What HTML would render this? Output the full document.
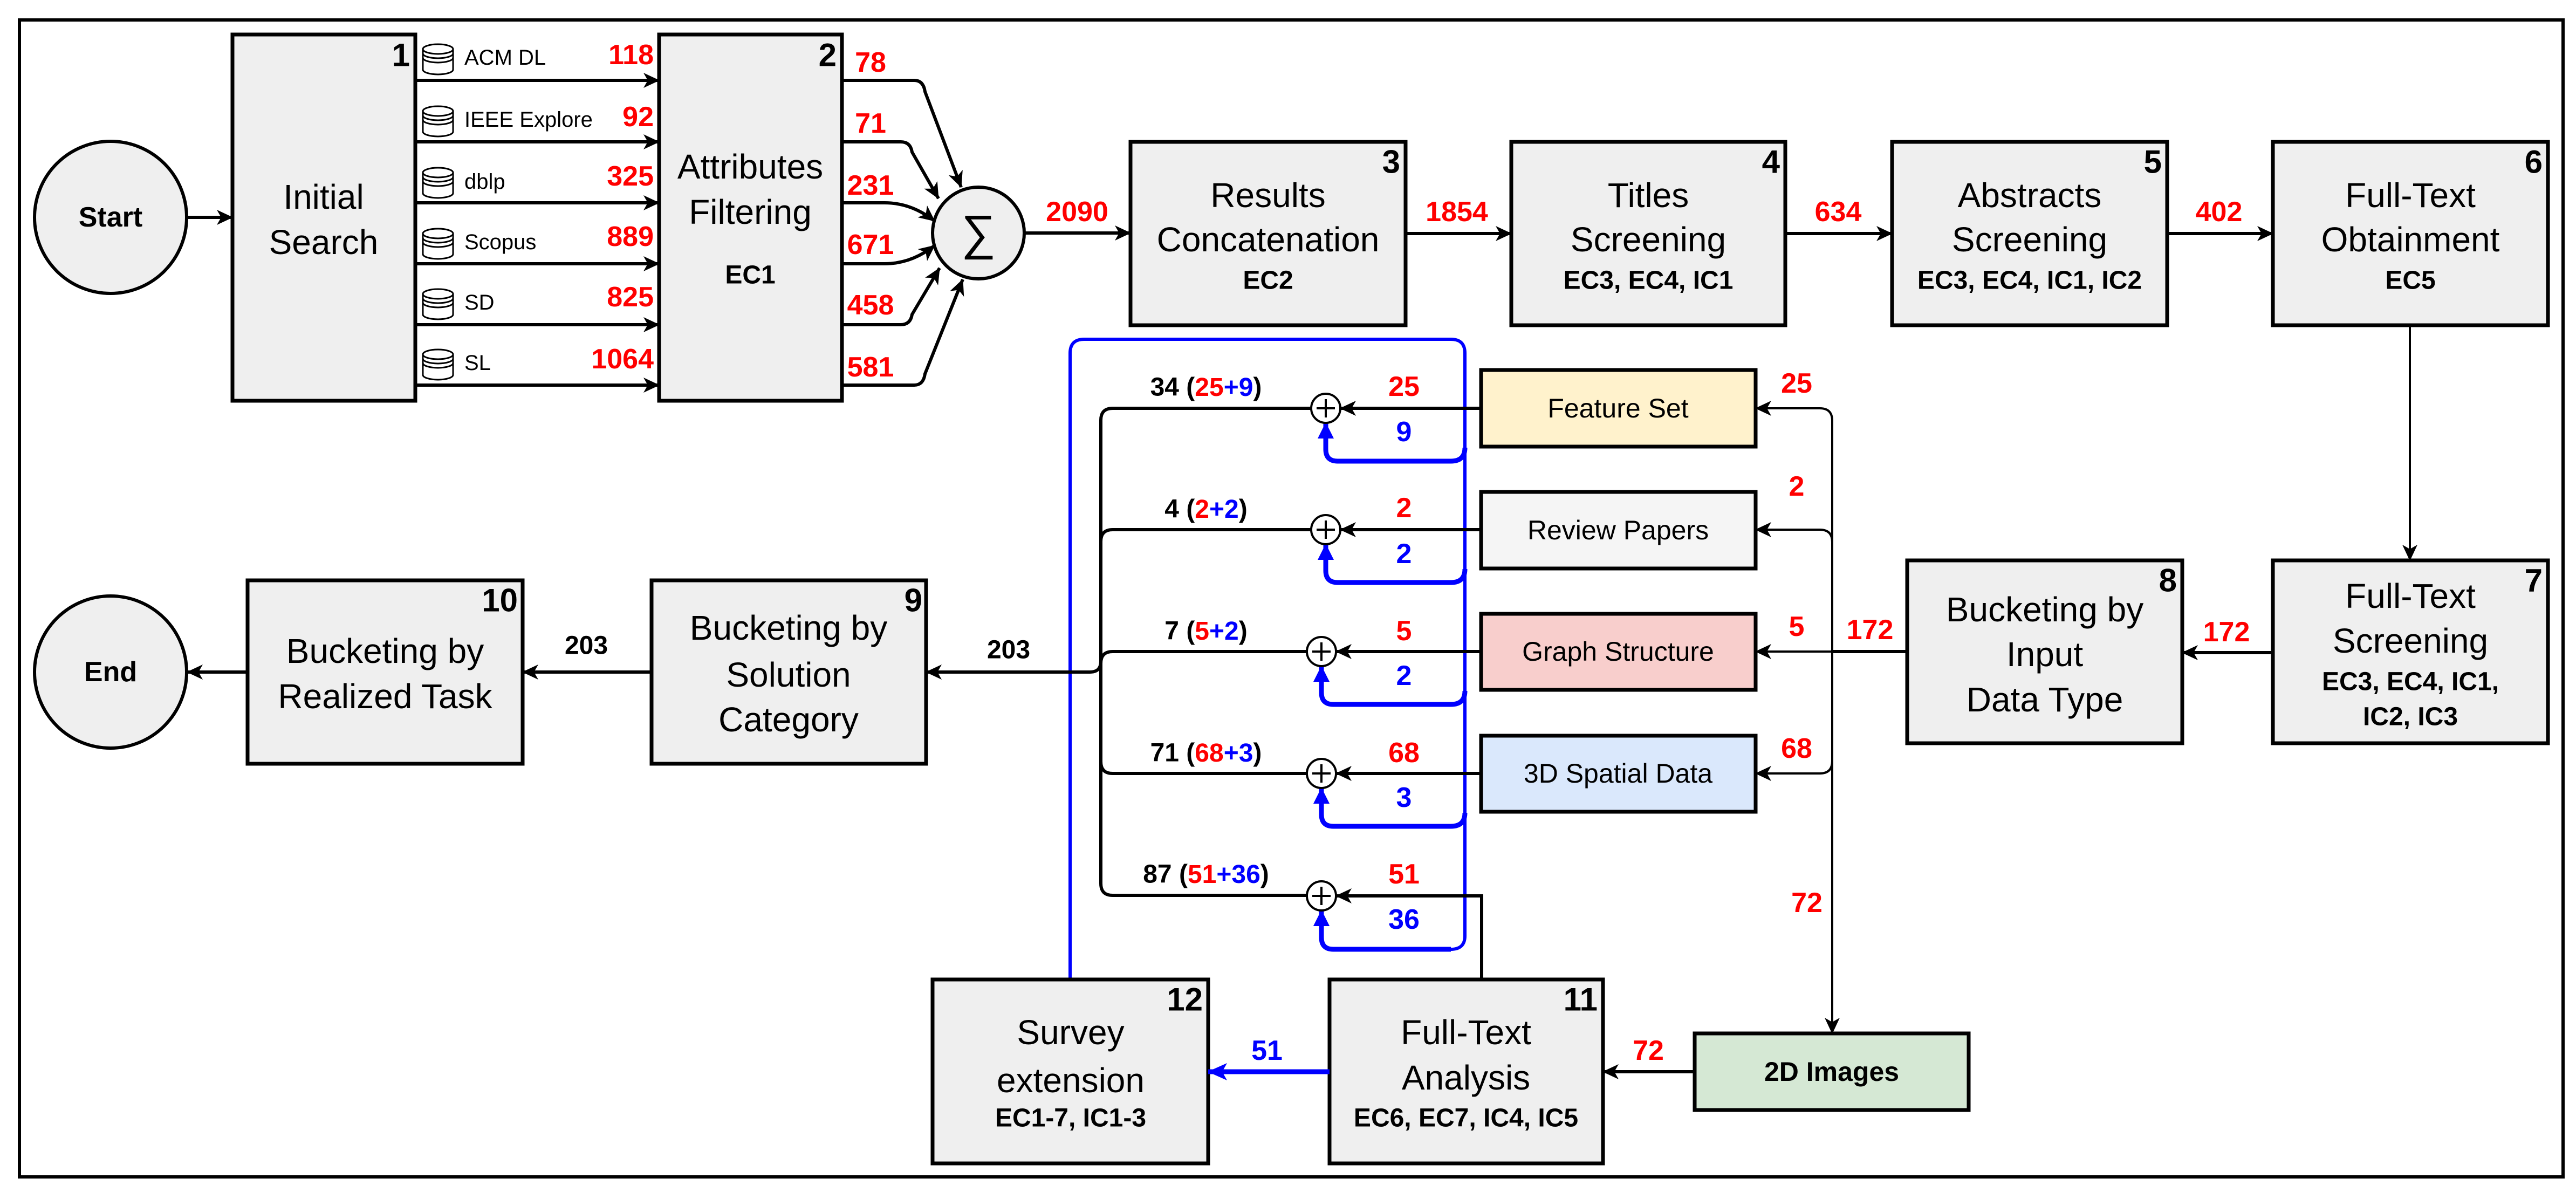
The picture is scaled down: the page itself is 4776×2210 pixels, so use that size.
<!DOCTYPE html>
<html><head><meta charset="utf-8">
<style>
html,body{margin:0;padding:0;background:#fff;}
svg{display:block;}
text{font-family:"Liberation Sans",Arial,sans-serif;dominant-baseline:central;}
.t{font-size:64px;text-anchor:middle;}
.b{font-size:48px;font-weight:bold;text-anchor:middle;}
.n{font-size:60px;font-weight:bold;text-anchor:end;}
.r{font-size:52px;font-weight:bold;fill:#ff0000;text-anchor:middle;}
.bl{font-size:52px;font-weight:bold;fill:#0000ff;text-anchor:middle;}
.k{font-size:48px;font-weight:bold;text-anchor:middle;}
.s{font-size:50px;text-anchor:middle;}
.db{font-size:40px;}
.box{fill:#efefef;stroke:#000;stroke-width:7;}
.ln{fill:none;stroke:#000;stroke-width:6;}
.thin{fill:none;stroke:#000;stroke-width:4;}
.blu{fill:none;stroke:#0000ff;stroke-width:6;}
.blu2{fill:none;stroke:#0000ff;stroke-width:9;}
</style></head><body>
<svg width="4776" height="2210" viewBox="0 0 4776 2210" xmlns="http://www.w3.org/2000/svg">
<defs>
<marker id="a" viewBox="0 0 30 28" refX="29" refY="14" markerWidth="30" markerHeight="28" orient="auto" markerUnits="userSpaceOnUse"><path d="M0,0 L30,14 L0,28 L8,14z" fill="#000"/></marker>
<marker id="ab" viewBox="0 0 36 32" refX="35" refY="16" markerWidth="36" markerHeight="32" orient="auto" markerUnits="userSpaceOnUse"><path d="M0,0 L36,16 L0,32 L9,16z" fill="#0000ff"/></marker>
<marker id="bk" viewBox="0 0 30 30" refX="29" refY="15" markerWidth="30" markerHeight="30" orient="auto" markerUnits="userSpaceOnUse"><path d="M0,0 L30,15 L0,30z" fill="#0000ff"/></marker>
<g id="cyl">
<path d="M0,12 V50 A28,9 0 0 0 56,50 V12" fill="#fff" stroke="#000" stroke-width="3"/>
<ellipse cx="28" cy="12" rx="28" ry="9" fill="#fff" stroke="#000" stroke-width="3"/>
<path d="M0,20 A28,9 0 0 0 56,20 M0,28 A28,9 0 0 0 56,28" fill="none" stroke="#000" stroke-width="3"/>
</g>
</defs>
<rect width="4776" height="2210" fill="#fff"/>
<rect x="36" y="37" width="4716" height="2145" fill="none" stroke="#000" stroke-width="6"/>

<!-- Start / End -->
<circle cx="205" cy="403" r="141" fill="#efefef" stroke="#000" stroke-width="6"/>
<text x="205" y="403" class="k" style="font-size:52px">Start</text>
<circle cx="205" cy="1246" r="141" fill="#efefef" stroke="#000" stroke-width="6"/>
<text x="205" y="1246" class="k" style="font-size:52px">End</text>

<!-- Box1 -->
<rect x="431" y="64" width="339" height="679" class="box"/>
<text x="760" y="102" class="n">1</text>
<text x="600" y="365" class="t">Initial</text>
<text x="600" y="449" class="t">Search</text>
<!-- Box2 -->
<rect x="1222" y="64" width="339" height="679" class="box"/>
<text x="1551" y="102" class="n">2</text>
<text x="1391" y="309" class="t">Attributes</text>
<text x="1391" y="393" class="t">Filtering</text>
<text x="1391" y="510" class="b">EC1</text>

<!-- DB rows -->
<use href="#cyl" x="784" y="79"/><use href="#cyl" x="784" y="194"/><use href="#cyl" x="784" y="308"/>
<use href="#cyl" x="784" y="421"/><use href="#cyl" x="784" y="533"/><use href="#cyl" x="784" y="645"/>
<text x="861" y="107" class="db">ACM DL</text>
<text x="861" y="222" class="db">IEEE Explore</text>
<text x="861" y="337" class="db">dblp</text>
<text x="861" y="449" class="db">Scopus</text>
<text x="861" y="561" class="db">SD</text>
<text x="861" y="673" class="db">SL</text>
<g class="r" style="text-anchor:end">
<text x="1212" y="102" class="r" style="text-anchor:end">118</text>
<text x="1212" y="217" class="r" style="text-anchor:end">92</text>
<text x="1212" y="327" class="r" style="text-anchor:end">325</text>
<text x="1212" y="439" class="r" style="text-anchor:end">889</text>
<text x="1212" y="551" class="r" style="text-anchor:end">825</text>
<text x="1212" y="666" class="r" style="text-anchor:end">1064</text>
</g>
<path class="ln" d="M347,403 H431" marker-end="url(#a)"/>
<path class="ln" d="M770,149 H1222" marker-end="url(#a)"/>
<path class="ln" d="M770,263 H1222" marker-end="url(#a)"/>
<path class="ln" d="M770,376 H1222" marker-end="url(#a)"/>
<path class="ln" d="M770,489 H1222" marker-end="url(#a)"/>
<path class="ln" d="M770,602 H1222" marker-end="url(#a)"/>
<path class="ln" d="M770,714 H1222" marker-end="url(#a)"/>

<!-- Sum -->
<circle cx="1814" cy="432" r="85" fill="#efefef" stroke="#000" stroke-width="6"/>
<text x="1814" y="432" style="font-size:90px;text-anchor:middle">∑</text>
<path class="ln" d="M1561,149 H1695 Q1712,149 1715,170 L1782,347" marker-end="url(#a)"/>
<path class="ln" d="M1561,263 H1670 Q1688,263 1691,282 L1740,368" marker-end="url(#a)"/>
<path class="ln" d="M1561,376 H1640 Q1690,376 1733,410" marker-end="url(#a)"/>
<path class="ln" d="M1561,489 H1640 Q1690,489 1733,455" marker-end="url(#a)"/>
<path class="ln" d="M1561,602 H1670 Q1688,602 1691,583 L1742,497" marker-end="url(#a)"/>
<path class="ln" d="M1561,714 H1695 Q1712,714 1715,693 L1785,518" marker-end="url(#a)"/>
<text x="1614" y="116" class="r">78</text>
<text x="1614" y="229" class="r">71</text>
<text x="1614" y="344" class="r">231</text>
<text x="1614" y="454" class="r">671</text>
<text x="1614" y="566" class="r">458</text>
<text x="1614" y="681" class="r">581</text>
<path class="ln" d="M1899,432 H2096" marker-end="url(#a)"/>
<text x="1997" y="393" class="r">2090</text>

<!-- Top boxes -->
<rect x="2096" y="263" width="510" height="340" class="box"/>
<text x="2596" y="300" class="n">3</text>
<text x="2351" y="362" class="t">Results</text>
<text x="2351" y="444" class="t">Concatenation</text>
<text x="2351" y="520" class="b">EC2</text>
<rect x="2802" y="263" width="508" height="340" class="box"/>
<text x="3300" y="300" class="n">4</text>
<text x="3056" y="362" class="t">Titles</text>
<text x="3056" y="444" class="t">Screening</text>
<text x="3056" y="520" class="b">EC3, EC4, IC1</text>
<rect x="3508" y="263" width="510" height="340" class="box"/>
<text x="4008" y="300" class="n">5</text>
<text x="3763" y="362" class="t">Abstracts</text>
<text x="3763" y="444" class="t">Screening</text>
<text x="3763" y="520" class="b">EC3, EC4, IC1, IC2</text>
<rect x="4214" y="263" width="510" height="340" class="box"/>
<text x="4714" y="300" class="n">6</text>
<text x="4469" y="362" class="t">Full-Text</text>
<text x="4469" y="444" class="t">Obtainment</text>
<text x="4469" y="520" class="b">EC5</text>
<path class="ln" d="M2606,433 H2802" marker-end="url(#a)"/>
<path class="ln" d="M3310,433 H3508" marker-end="url(#a)"/>
<path class="ln" d="M4018,433 H4214" marker-end="url(#a)"/>
<text x="2701" y="393" class="r">1854</text>
<text x="3408" y="393" class="r">634</text>
<text x="4114" y="393" class="r">402</text>

<!-- Box7, Box8 -->
<path class="thin" d="M4468,603 V1039" marker-end="url(#a)"/>
<rect x="4214" y="1039" width="510" height="339" class="box"/>
<text x="4714" y="1076" class="n">7</text>
<text x="4469" y="1105" class="t">Full-Text</text>
<text x="4469" y="1188" class="t">Screening</text>
<text x="4469" y="1264" class="b">EC3, EC4, IC1,</text>
<text x="4469" y="1329" class="b">IC2, IC3</text>
<rect x="3536" y="1039" width="510" height="339" class="box"/>
<text x="4036" y="1076" class="n">8</text>
<text x="3791" y="1130" class="t">Bucketing by</text>
<text x="3791" y="1213" class="t">Input</text>
<text x="3791" y="1297" class="t">Data Type</text>
<path class="ln" d="M4214,1210 H4046" marker-end="url(#a)"/>
<text x="4128" y="1172" class="r">172</text>

<!-- right bus -->
<path class="ln" d="M3536,1208 H3397"/>
<path class="thin" d="M3397,780 V1916" marker-end="url(#a)"/>
<path class="thin" d="M3397,780 Q3397,757 3374,757 H3255" marker-end="url(#a)"/>
<path class="thin" d="M3397,1005 Q3397,982 3374,982 H3255" marker-end="url(#a)"/>
<path class="thin" d="M3397,1208 H3255" marker-end="url(#a)"/>
<path class="thin" d="M3397,1411 Q3397,1434 3374,1434 H3255" marker-end="url(#a)"/>
<text x="3467" y="1168" class="r">172</text>
<text x="3331" y="711" class="r">25</text>
<text x="3331" y="902" class="r">2</text>
<text x="3331" y="1162" class="r">5</text>
<text x="3331" y="1388" class="r">68</text>
<text x="3350" y="1674" class="r">72</text>

<!-- side boxes -->
<rect x="2746" y="686" width="509" height="142" fill="#fff2cc" stroke="#000" stroke-width="7"/>
<text x="3000" y="757" class="s">Feature Set</text>
<rect x="2746" y="912" width="509" height="142" fill="#f5f5f5" stroke="#000" stroke-width="7"/>
<text x="3000" y="983" class="s">Review Papers</text>
<rect x="2746" y="1138" width="509" height="141" fill="#f8cecc" stroke="#000" stroke-width="7"/>
<text x="3000" y="1208" class="s">Graph Structure</text>
<rect x="2746" y="1364" width="509" height="141" fill="#dae8fc" stroke="#000" stroke-width="7"/>
<text x="3000" y="1434" class="s">3D Spatial Data</text>

<!-- blue frame and loops -->
<path class="blu" d="M1984,1816 V655 Q1984,629 2010,629 H2690 Q2716,629 2716,655 V1735 Q2716,1760 2690,1760 H2472 Q2450,1760 2450,1738 V1688" marker-end="url(#bk)"/>
<path class="blu2" d="M2716,830 Q2716,855 2690,855 H2480 Q2458,855 2458,833 V784" marker-end="url(#bk)"/>
<path class="blu2" d="M2716,1055 Q2716,1080 2690,1080 H2480 Q2458,1080 2458,1058 V1009" marker-end="url(#bk)"/>
<path class="blu2" d="M2716,1281 Q2716,1306 2690,1306 H2472 Q2450,1306 2450,1284 V1235" marker-end="url(#bk)"/>
<path class="blu2" d="M2716,1507 Q2716,1532 2690,1532 H2472 Q2450,1532 2450,1510 V1461" marker-end="url(#bk)"/>
<path class="blu2" d="M2690,1760 H2472 Q2450,1760 2450,1738 V1688" marker-end="url(#bk)"/>

<!-- plus nodes -->
<path class="ln" d="M2746,757 H2485" marker-end="url(#a)"/>
<path class="ln" d="M2746,982 H2485" marker-end="url(#a)"/>
<path class="ln" d="M2746,1208 H2477" marker-end="url(#a)"/>
<path class="ln" d="M2746,1434 H2477" marker-end="url(#a)"/>
<path class="ln" d="M2747,1816 V1661 H2477" marker-end="url(#a)"/>
<g fill="#fff" stroke="#000" stroke-width="4">
<circle cx="2458" cy="757" r="27"/><circle cx="2458" cy="982" r="27"/>
<circle cx="2450" cy="1208" r="27"/><circle cx="2450" cy="1434" r="27"/><circle cx="2450" cy="1661" r="27"/>
</g>
<g stroke="#000" stroke-width="4">
<path d="M2441,757 H2475 M2458,740 V774"/><path d="M2441,982 H2475 M2458,965 V999"/>
<path d="M2433,1208 H2467 M2450,1191 V1225"/><path d="M2433,1434 H2467 M2450,1417 V1451"/>
<path d="M2433,1661 H2467 M2450,1644 V1678"/>
</g>

<!-- left bus -->
<path class="ln" d="M2431,757 H2063 Q2041,757 2041,779 V1638 Q2041,1660 2063,1660 H2423"/>
<path class="ln" d="M2431,982 H2063 Q2041,982 2041,1004"/>
<path class="ln" d="M2423,1208 H2063 Q2041,1208 2041,1230"/>
<path class="ln" d="M2423,1434 H2063 Q2041,1434 2041,1412"/>
<path class="ln" d="M2041,1226 Q2041,1246 2021,1246 H1717" marker-end="url(#a)"/>

<!-- plus labels -->
<text x="2236" y="718" class="k">34 (<tspan fill="#ff0000">25</tspan><tspan fill="#0000ff">+9</tspan>)</text>
<text x="2236" y="944" class="k">4 (<tspan fill="#ff0000">2</tspan><tspan fill="#0000ff">+2</tspan>)</text>
<text x="2236" y="1170" class="k">7 (<tspan fill="#ff0000">5</tspan><tspan fill="#0000ff">+2</tspan>)</text>
<text x="2236" y="1396" class="k">71 (<tspan fill="#ff0000">68</tspan><tspan fill="#0000ff">+3</tspan>)</text>
<text x="2236" y="1621" class="k">87 (<tspan fill="#ff0000">51</tspan><tspan fill="#0000ff">+36</tspan>)</text>
<text x="2603" y="717" class="r">25</text>
<text x="2603" y="942" class="r">2</text>
<text x="2603" y="1170" class="r">5</text>
<text x="2603" y="1396" class="r">68</text>
<text x="2603" y="1621" class="r">51</text>
<text x="2603" y="801" class="bl">9</text>
<text x="2603" y="1027" class="bl">2</text>
<text x="2603" y="1253" class="bl">2</text>
<text x="2603" y="1479" class="bl">3</text>
<text x="2603" y="1705" class="bl">36</text>

<!-- Box9, Box10 -->
<rect x="1208" y="1076" width="509" height="340" class="box"/>
<text x="1710" y="1113" class="n">9</text>
<text x="1462" y="1164" class="t">Bucketing by</text>
<text x="1462" y="1251" class="t">Solution</text>
<text x="1462" y="1334" class="t">Category</text>
<rect x="459" y="1076" width="510" height="340" class="box"/>
<text x="960" y="1113" class="n">10</text>
<text x="714" y="1207" class="t">Bucketing by</text>
<text x="714" y="1291" class="t">Realized Task</text>
<path class="ln" d="M1208,1246 H969" marker-end="url(#a)"/>
<path class="ln" d="M459,1246 H347" marker-end="url(#a)"/>
<text x="1087" y="1197" class="k">203</text>
<text x="1870" y="1205" class="k">203</text>

<!-- Box12, Box11, 2D -->
<rect x="1729" y="1816" width="511" height="341" class="box"/>
<text x="2230" y="1853" class="n">12</text>
<text x="1985" y="1914" class="t">Survey</text>
<text x="1985" y="2003" class="t">extension</text>
<text x="1985" y="2073" class="b">EC1-7, IC1-3</text>
<rect x="2465" y="1816" width="507" height="341" class="box"/>
<text x="2962" y="1853" class="n">11</text>
<text x="2718" y="1914" class="t">Full-Text</text>
<text x="2718" y="1998" class="t">Analysis</text>
<text x="2718" y="2073" class="b">EC6, EC7, IC4, IC5</text>
<rect x="3142" y="1916" width="508" height="142" fill="#d5e8d4" stroke="#000" stroke-width="7"/>
<text x="3396" y="1987" class="k" style="font-size:50px">2D Images</text>
<path class="ln" d="M3142,1987 H2972" marker-end="url(#a)"/>
<text x="3056" y="1948" class="r">72</text>
<path class="blu2" d="M2465,1987 H2240" marker-end="url(#ab)"/>
<text x="2349" y="1948" class="bl">51</text>
</svg>
</body></html>
